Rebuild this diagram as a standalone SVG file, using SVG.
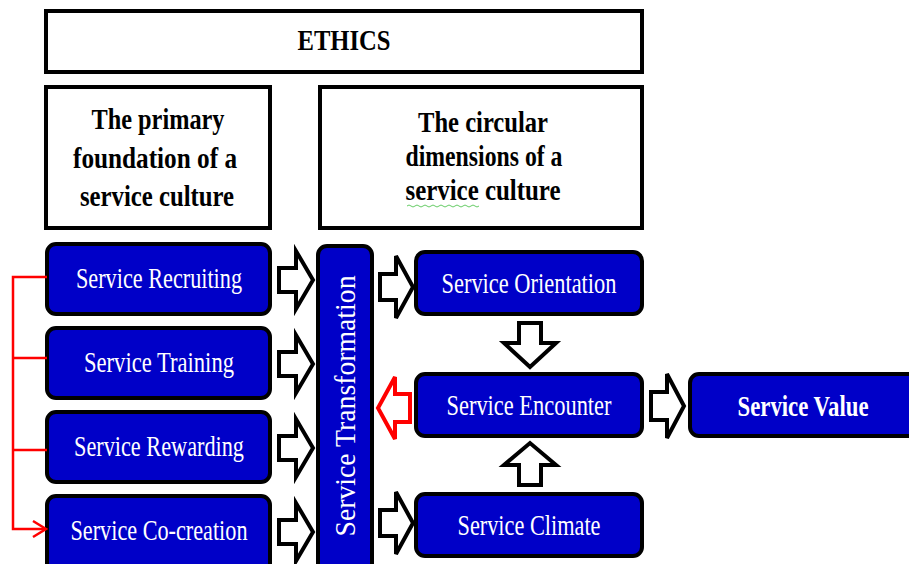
<svg xmlns="http://www.w3.org/2000/svg" width="909" height="564" viewBox="0 0 909 564">
<style>
.hdr{fill:#fff;stroke:#000;stroke-width:4}
.node{fill:#0000C8;stroke:#000;stroke-width:4}
.ht{font-family:"Liberation Serif","Times New Roman",serif;font-weight:bold;font-size:29px;fill:#000;text-anchor:middle}
.nt{font-family:"Liberation Serif","Times New Roman",serif;font-size:29px;fill:#fff;text-anchor:middle}
.bt{font-family:"Liberation Serif","Times New Roman",serif;font-weight:bold;font-size:29px;fill:#fff;text-anchor:middle}
.blk{fill:#fff;stroke:#000;stroke-width:4;stroke-linejoin:miter}
.red{fill:#fff;stroke:#f00;stroke-width:4}
.rl{fill:none;stroke:#f00;stroke-width:2.5}
</style>
<rect width="909" height="564" fill="#fff"/>
<g id="ethics">
<rect class="hdr" x="46" y="11" width="596" height="61"/>
<text class="ht" x="344" y="50" textLength="93" lengthAdjust="spacingAndGlyphs">ETHICS</text>
</g>
<g id="primary">
<rect class="hdr" x="46" y="87" width="224" height="141"/>
<text class="ht" x="158" y="129" textLength="133" lengthAdjust="spacingAndGlyphs">The primary</text>
<text class="ht" x="155" y="168" textLength="164" lengthAdjust="spacingAndGlyphs">foundation of a</text>
<text class="ht" x="157" y="206" textLength="154" lengthAdjust="spacingAndGlyphs">service culture</text>
</g>
<g id="circular">
<rect class="hdr" x="320" y="87" width="322" height="141"/>
<text class="ht" x="483" y="132" textLength="130" lengthAdjust="spacingAndGlyphs">The circular</text>
<text class="ht" x="484" y="166" textLength="157" lengthAdjust="spacingAndGlyphs">dimensions of a</text>
<text class="ht" x="483" y="200" textLength="155" lengthAdjust="spacingAndGlyphs">service culture</text>
<path d="M407 206 q2 -2 4 0 t4 0 t4 0 t4 0 t4 0 t4 0 t4 0 t4 0 t4 0 t4 0 t4 0 t4 0 t4 0 t4 0 t4 0 t4 0 t4 0 t4 0" fill="none" stroke="#6c6" stroke-width="1"/>
</g>
<g id="recruiting">
<rect class="node" x="47" y="244" width="223" height="70" rx="9"/>
<text class="nt" x="159" y="288" textLength="166" lengthAdjust="spacingAndGlyphs">Service Recruiting</text>
</g>
<g id="training">
<rect class="node" x="47" y="328" width="223" height="70" rx="9"/>
<text class="nt" x="159" y="372" textLength="150" lengthAdjust="spacingAndGlyphs">Service Training</text>
</g>
<g id="rewarding">
<rect class="node" x="47" y="412" width="223" height="70" rx="9"/>
<text class="nt" x="159" y="456" textLength="170" lengthAdjust="spacingAndGlyphs">Service Rewarding</text>
</g>
<g id="cocreation">
<rect class="node" x="47" y="496" width="223" height="76" rx="9"/>
<text class="nt" x="159" y="540" textLength="177" lengthAdjust="spacingAndGlyphs">Service Co-creation</text>
</g>
<g id="transformation">
<rect class="node" x="318" y="246" width="54" height="330" rx="9"/>
<text class="nt" transform="translate(355,406) rotate(-90)" x="0" y="0" textLength="261" lengthAdjust="spacingAndGlyphs">Service Transformation</text>
</g>
<g id="orientation">
<rect class="node" x="416" y="252" width="226" height="62" rx="9"/>
<text class="nt" x="529" y="293" textLength="175" lengthAdjust="spacingAndGlyphs">Service Orientation</text>
</g>
<g id="encounter">
<rect class="node" x="416" y="374" width="226" height="62" rx="9"/>
<text class="nt" x="529" y="415" textLength="165" lengthAdjust="spacingAndGlyphs">Service Encounter</text>
</g>
<g id="climate">
<rect class="node" x="416" y="494" width="226" height="62" rx="9"/>
<text class="nt" x="529" y="535" textLength="143" lengthAdjust="spacingAndGlyphs">Service Climate</text>
</g>
<g id="value">
<rect class="node" x="690" y="374" width="230" height="62" rx="9"/>
<text class="bt" x="803" y="416" textLength="131" lengthAdjust="spacingAndGlyphs">Service Value</text>
</g>
<g id="connectors">
<path class="blk" d="M279 268 H296 V251 L313 280 L296 309 V292 H279 Z"/>
<path class="blk" d="M279 352 H296 V335 L313 364 L296 393 V376 H279 Z"/>
<path class="blk" d="M279 436 H296 V419 L313 448 L296 477 V460 H279 Z"/>
<path class="blk" d="M279 520 H296 V503 L313 532 L296 561 V544 H279 Z"/>
<path class="blk" d="M380 274 H396 V256 L413 287 L396 318 V300 H380 Z"/>
<path class="blk" d="M380 510 H396 V492 L413 523 L396 554 V536 H380 Z"/>
<path class="blk" d="M519 323 H541 V343 H556 L530 367 L504 343 H519 Z"/>
<path class="blk" d="M519 485 H541 V465 H556 L530 443 L504 465 H519 Z"/>
<path class="blk" d="M651 392 H667 V374 L684 406 L667 438 V420 H651 Z"/>
<path class="red" d="M410 394 H395 V377 L378 408 L395 439 V422 H410 Z"/>
<path class="rl" d="M47 277 H13 V529 H45 M47 358 H13 M47 450 H13"/>
<path class="rl" d="M33 521 L46 529 L33 537"/>
</g>
</svg>
